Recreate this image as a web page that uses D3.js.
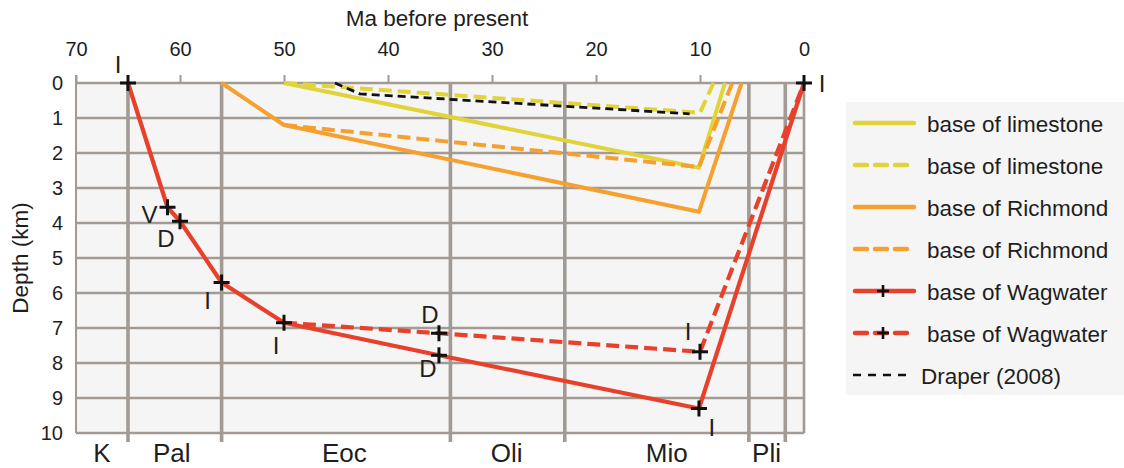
<!DOCTYPE html>
<html>
<head>
<meta charset="utf-8">
<script src="https://cdn.jsdelivr.net/npm/d3@7/dist/d3.min.js"></script>
<style>
  html, body { margin: 0; padding: 0; background: #fff; }
  svg text { font-family: "Liberation Sans", Arial, Helvetica, sans-serif; fill: #1e1e1e; }
</style>
</head>
<body>
<svg id="chart" width="1124" height="468"></svg>
<script>
// Age axis ticks (Ma) and depth ticks (km)
const ageTicks = [70, 60, 50, 40, 30, 20, 10, 0];
const depthTicks = [0, 1, 2, 3, 4, 5, 6, 7, 8, 9, 10];

// Epoch boundaries (Ma) and epoch names with their label centres (Ma)
const epochBounds = [65, 56, 34, 23, 5.3, 1.8];
const epochNames = ["K", "Pal", "Eoc", "Oli", "Mio", "Pli"];
const epochCentres = [67.5, 60.8, 44.2, 28.6, 13.2, 3.6];

// Burial paths: [age Ma, depth km]
const limestoneSolid = [[50, 0], [10.1, 2.42], [7.6, 0]];
const limestoneDashed = [[50, 0], [10, 0.85], [8.7, 0]];
const richmondSolid = [[56, 0], [50, 1.2], [10.1, 3.68], [6.0, 0]];
const richmondDashed = [[50, 1.2], [10.1, 2.4], [6.9, 0]];
const wagwaterSolid = [[65, 0], [61.2, 3.55], [60, 3.95], [56, 5.7], [50, 6.85], [35.1, 7.78], [10.1, 9.3], [0, 0]];
const wagwaterDashed = [[50, 6.85], [35.1, 7.15], [10, 7.68], [0, 0]];
const draper = [[45.1, 0], [42.7, 0.31], [11, 0.88]];

// Control points with their letters: [age, depth, letter, dx, dy]
const markers = [
  [65, 0, "I", -10, -10],
  [61.2, 3.55, "V", -18, 16],
  [60, 3.95, "D", -14, 26],
  [56, 5.7, "I", -14, 26],
  [50, 6.85, "I", -8, 31],
  [35.1, 7.15, "D", -9, -10],
  [35.1, 7.78, "D", -11, 22],
  [10, 7.68, "I", -12, -12],
  [10.1, 9.3, "I", 13, 27],
  [0, 0, "I", 18, 9]
];

// Legend entries
const legendLabels = ["base of limestone", "base of limestone", "base of Richmond", "base of Richmond",
  "base of Wagwater", "base of Wagwater", "Draper (2008)"];

const col = { lime: "#e1d43b", rich: "#f5a02f", wag: "#e8412b", grid: "#a29a94", black: "#111" };

const svg = d3.select("#chart");
const x = d3.scaleLinear().domain([70, 0]).range([76, 804]);
const y = d3.scaleLinear().domain([0, 10]).range([83, 433]);

// Plot background
svg.append("rect").attr("x", x(70)).attr("y", y(0)).attr("width", x(0) - x(70)).attr("height", y(10) - y(0))
  .attr("fill", "#f6f5f5");

// Horizontal grid
svg.append("g").selectAll("line").data(depthTicks).join("line")
  .attr("x1", x(70)).attr("x2", x(0)).attr("y1", d => y(d)).attr("y2", d => y(d))
  .attr("stroke", col.grid).attr("stroke-width", 2.6);

// Borders
svg.append("line").attr("x1", x(70)).attr("x2", x(70)).attr("y1", y(0) - 8).attr("y2", y(10))
  .attr("stroke", col.grid).attr("stroke-width", 2);
svg.append("line").attr("x1", x(0)).attr("x2", x(0)).attr("y1", y(0)).attr("y2", y(10))
  .attr("stroke", col.grid).attr("stroke-width", 2.6);

// Epoch boundary lines
svg.append("g").selectAll("line").data(epochBounds).join("line")
  .attr("x1", d => x(d)).attr("x2", d => x(d)).attr("y1", y(0)).attr("y2", y(10) + 9)
  .attr("stroke", col.grid).attr("stroke-width", 3.6);

// Top axis
const topAxis = d3.axisTop(x).tickValues(ageTicks).tickSize(8).tickPadding(19).tickFormat(d3.format("d"));
const gTop = svg.append("g").attr("transform", `translate(0,${y(0)})`).call(topAxis);
gTop.select(".domain").remove();
gTop.selectAll(".tick line").attr("stroke", col.grid).attr("stroke-width", 2)
  .attr("display", d => d === 0 ? "none" : null);
gTop.selectAll(".tick text").attr("font-size", 20).attr("dy", "0").attr("fill", "#1e1e1e");

// Left axis
const leftAxis = d3.axisLeft(y).tickValues(depthTicks).tickSize(0).tickPadding(13).tickFormat(d3.format("d"));
const gLeft = svg.append("g").attr("transform", `translate(${x(70)},0)`).call(leftAxis);
gLeft.select(".domain").remove();
gLeft.selectAll(".tick text").attr("font-size", 20).attr("fill", "#1e1e1e");

// Axis titles
svg.append("text").attr("x", 437).attr("y", 26).attr("text-anchor", "middle").attr("font-size", 22.5)
  .text("Ma before present");
svg.append("text").attr("transform", `translate(28,${y(5)}) rotate(-90)`).attr("text-anchor", "middle")
  .attr("font-size", 22.5).text("Depth (km)");

// Epoch labels
svg.append("g").selectAll("text").data(epochNames).join("text")
  .attr("x", (d, i) => x(epochCentres[i])).attr("y", 462).attr("text-anchor", "middle")
  .attr("font-size", 26).text(d => d);

// Lines
const line = d3.line().x(d => x(d[0])).y(d => y(d[1]));
const lines = [
  [limestoneSolid, col.lime, null, 4],
  [limestoneDashed, col.lime, "13,6", 4],
  [richmondSolid, col.rich, null, 4],
  [richmondDashed, col.rich, "13,6", 4],
  [wagwaterDashed, col.wag, "13,6", 4.2],
  [wagwaterSolid, col.wag, null, 4.2],
  [draper, col.black, "8,5", 2.8]
];
svg.append("g").selectAll("path").data(lines).join("path")
  .attr("d", d => line(d[0])).attr("fill", "none").attr("stroke", d => d[1])
  .attr("stroke-width", d => d[3]).attr("stroke-dasharray", d => d[2]).attr("stroke-linejoin", "round");

// Plus markers
const plus = (g, cx, cy, s) => {
  g.append("line").attr("x1", cx - s).attr("x2", cx + s).attr("y1", cy).attr("y2", cy);
  g.append("line").attr("x1", cx).attr("x2", cx).attr("y1", cy - s).attr("y2", cy + s);
};
const gm = svg.append("g").attr("stroke", "#111").attr("stroke-width", 3);
markers.forEach(m => plus(gm, x(m[0]), y(m[1]), 8));
svg.append("g").selectAll("text").data(markers).join("text")
  .attr("x", d => x(d[0]) + d[3]).attr("y", d => y(d[1]) + d[4]).attr("text-anchor", "middle")
  .attr("font-size", 24).text(d => d[2]);

// Legend
const lg = svg.append("g");
lg.append("rect").attr("x", 846).attr("y", 102).attr("width", 278).attr("height", 293).attr("fill", "#f6f5f5");
const legendStyles = [
  [col.lime, null, 4.5], [col.lime, "12,8", 4.5], [col.rich, null, 4.5], [col.rich, "12,8", 4.5],
  [col.wag, null, 4.5], [col.wag, "12,8", 4.5], [col.black, "8,7", 2.6]
];
const ly = d3.scalePoint().domain(d3.range(legendLabels.length)).range([123, 375]);
legendLabels.forEach((t, i) => {
  const yy = ly(i);
  const st = legendStyles[i];
  const x0 = i === 6 ? 853 : 855;
  const xEnd = i === 6 ? 911 : 914;
  lg.append("line").attr("x1", x0).attr("x2", xEnd).attr("y1", yy).attr("y2", yy)
    .attr("stroke", st[0]).attr("stroke-width", st[2]).attr("stroke-dasharray", st[1])
    .attr("stroke-linecap", i === 6 ? "butt" : "round");
  if (i === 4 || i === 5) {
    const gg = lg.append("g").attr("stroke", "#111").attr("stroke-width", 2.6);
    plus(gg, 883, yy, 6);
  }
  lg.append("text").attr("x", i === 6 ? 921 : 927).attr("y", yy + 8.5).attr("font-size", 22.5).text(t);
});
</script>
</body>
</html>
